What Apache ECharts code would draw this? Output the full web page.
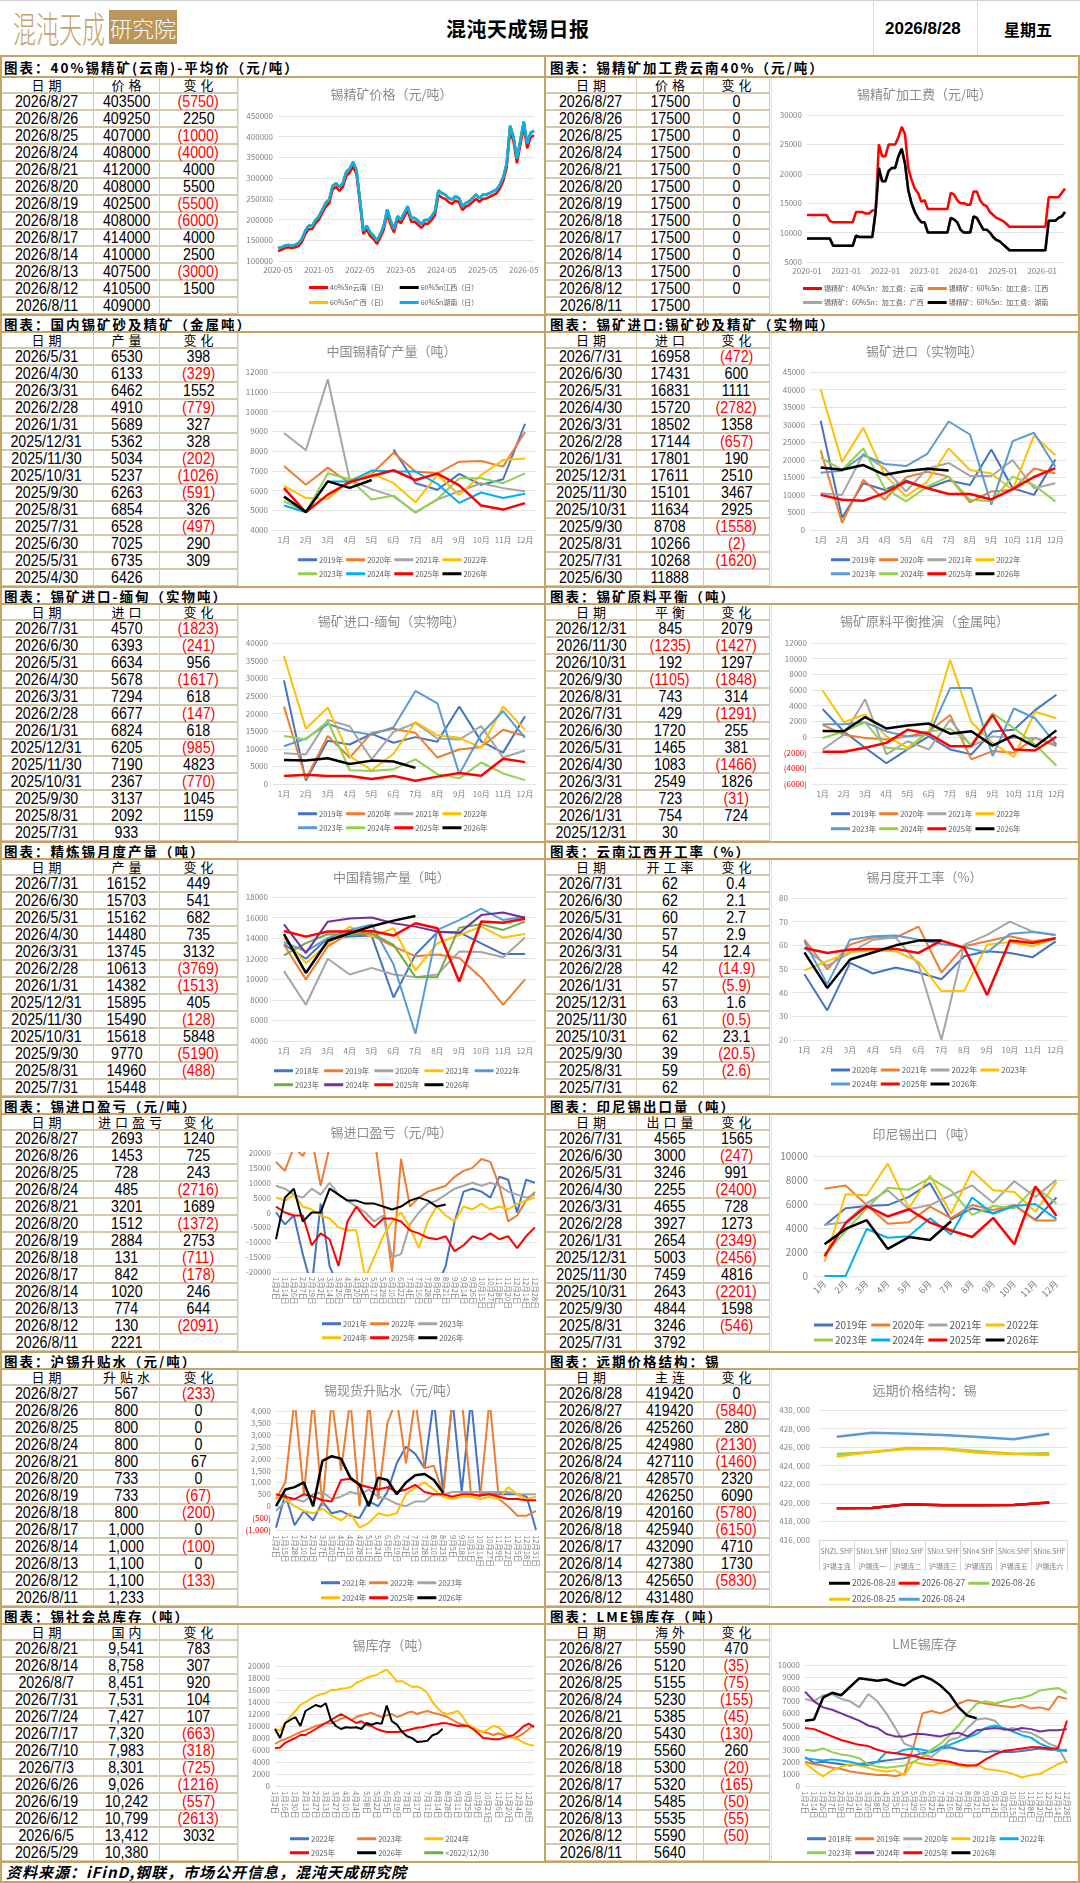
<!DOCTYPE html>
<html>
<head>
<meta charset="utf-8">
<script src="https://cdn.jsdelivr.net/npm/echarts/dist/echarts.min.js"></script>
<style>
body{margin:0;background:#fff;}
#page{position:relative;width:1080px;height:1883px;overflow:hidden;background:#fff;font-family:"Liberation Sans","Noto Sans CJK SC",sans-serif;color:#000;}
.sect{font-weight:bold;font-size:13.5px;letter-spacing:2px;padding-left:4px;box-sizing:border-box;white-space:nowrap;font-family:"Noto Sans CJK SC",sans-serif;}
.cell{box-sizing:border-box;border-bottom:2px solid #d4c8ae;border-right:1px solid #d4c8ae;text-align:center;font-size:16px;line-height:16px;white-space:nowrap;}
.cell .t{display:inline-block;transform:scaleX(0.89);}
.head{box-sizing:border-box;border-bottom:2px solid #d4c8ae;border-right:1px solid #d4c8ae;text-align:center;font-size:13px;line-height:16px;letter-spacing:4px;text-indent:4px;white-space:nowrap;font-family:"Noto Sans CJK SC",sans-serif;}
.chart{background:#fff;box-sizing:border-box;border:1px solid #e2e2e2;}
</style>
</head>
<body>
<div id="page"></div>
<script>
/* ---------------- 表格数据 ---------------- */
var dDaily = ['2026/8/27','2026/8/26','2026/8/25','2026/8/24','2026/8/21','2026/8/20','2026/8/19','2026/8/18','2026/8/17','2026/8/14','2026/8/13','2026/8/12','2026/8/11'];
var dMonthly = ['2026/7/31','2026/6/30','2026/5/31','2026/4/30','2026/3/31','2026/2/28','2026/1/31','2025/12/31','2025/11/30','2025/10/31','2025/9/30','2025/8/31','2025/7/31'];

var orePx = [403500,409250,407000,408000,412000,408000,402500,408000,414000,410000,407500,410500,409000];
var orePxChg = [-5750,2250,-1000,-4000,4000,5500,-5500,-6000,4000,2500,-3000,1500,null];

var tcPx = [17500,17500,17500,17500,17500,17500,17500,17500,17500,17500,17500,17500,17500];
var tcChg = [0,0,0,0,0,0,0,0,0,0,0,0,null];

var mineDates = ['2026/5/31','2026/4/30','2026/3/31','2026/2/28','2026/1/31','2025/12/31','2025/11/30','2025/10/31','2025/9/30','2025/8/31','2025/7/31','2025/6/30','2025/5/31','2025/4/30'];
var mineOut = [6530,6133,6462,4910,5689,5362,5034,5237,6263,6854,6528,7025,6735,6426];
var mineChg = [398,-329,1552,-779,327,328,-202,-1026,-591,326,-497,290,309,null];

var impDates = ['2026/7/31','2026/6/30','2026/5/31','2026/4/30','2026/3/31','2026/2/28','2026/1/31','2025/12/31','2025/11/30','2025/10/31','2025/9/30','2025/8/31','2025/7/31','2025/6/30'];
var impVal = [16958,17431,16831,15720,18502,17144,17801,17611,15101,11634,8708,10266,10268,11888];
var impChg = [-472,600,1111,-2782,1358,-657,190,2510,3467,2925,-1558,-2,-1620,null];

var mmVal = [4570,6393,6634,5678,7294,6677,6824,6205,7190,2367,3137,2092,933];
var mmChg = [-1823,-241,956,-1617,618,-147,618,-985,4823,-770,1045,1159,null];

var balDates = ['2026/12/31','2026/11/30','2026/10/31','2026/9/30','2026/8/31','2026/7/31','2026/6/30','2026/5/31','2026/4/30','2026/3/31','2026/2/28','2026/1/31','2025/12/31'];
var balVal = [845,-1235,192,-1105,743,429,1720,1465,1083,2549,723,754,30];
var balChg = [2079,-1427,1297,-1848,314,-1291,255,381,-1466,1826,-31,724,null];

var refVal = [16152,15703,15162,14480,13745,10613,14382,15895,15490,15618,9770,14960,15448];
var refChg = [449,541,682,735,3132,-3769,-1513,405,-128,5848,-5190,-488,null];

var runVal = [62,62,60,57,54,42,57,63,61,62,39,59,62];
var runChg = [0.4,2.1,2.7,2.9,12.4,-14.9,-5.9,1.6,-0.5,23.1,-20.5,-2.6,null];

var pnlVal = [2693,1453,728,485,3201,1512,2884,131,842,1020,774,130,2221];
var pnlChg = [1240,725,243,-2716,1689,-1372,2753,-711,-178,246,644,-2091,null];

var idVal = [4565,3000,3246,2255,4655,3927,2654,5003,7459,2643,4844,3246,3792];
var idChg = [1565,-247,991,-2400,728,1273,-2349,-2456,4816,-2201,1598,-546,null];

var basisVal = [567,800,800,800,800,733,733,800,1000,1000,1100,1100,1233];
var basisChg = [-233,0,0,0,67,0,-67,-200,0,-100,0,-133,null];

var futDates = ['2026/8/28','2026/8/27','2026/8/26','2026/8/25','2026/8/24','2026/8/21','2026/8/20','2026/8/19','2026/8/18','2026/8/17','2026/8/14','2026/8/13','2026/8/12'];
var futVal = [419420,419420,425260,424980,427110,428570,426250,420160,425940,432090,427380,425650,431480];
var futChg = [0,-5840,280,-2130,-1460,2320,6090,-5780,-6150,4710,1730,-5830,null];

var stkDates = ['2026/8/21','2026/8/14','2026/8/7','2026/7/31','2026/7/24','2026/7/17','2026/7/10','2026/7/3','2026/6/26','2026/6/19','2026/6/12','2026/6/5','2026/5/29'];
var stkVal = [9541,8758,8451,7531,7427,7320,7983,8301,9026,10242,10799,13412,10380];
var stkChg = [783,307,920,104,107,-663,-318,-725,-1216,-557,-2613,3032,null];

var lmeVal = [5590,5120,5155,5230,5385,5430,5560,5300,5320,5485,5535,5590,5640];
var lmeChg = [470,-35,-75,-155,-45,-130,260,-20,-165,-50,-55,-50,null];

/* ---------------- 图表数据 ---------------- */
var months = ['1月','2月','3月','4月','5月','6月','7月','8月','9月','10月','11月','12月'];

// 锡精矿价格，月度取值 2020-05 ~ 2026-08
var px40Yunnan = [124000,127000,131000,133000,131000,133000,136000,146000,
  165000,177000,177000,191000,200000,216000,231000,239000,272000,279000,269000,279000,
  305000,313000,329000,309000,239000,165000,176000,160000,153000,141000,157000,176000,
  214000,188000,169000,199000,191000,207000,222000,195000,195000,188000,180000,190000,
  190000,199000,211000,259000,253000,250000,242000,238000,246000,242000,223000,231000,
  235000,242000,250000,243000,250000,251000,255000,259000,263000,275000,293000,325000,
  414000,388000,336000,380000,424000,372000,398000,403500];
var px60 = [131000,133000,137000,139000,137000,139000,143000,153000,
  173000,185000,185000,199000,208000,224000,240000,248000,281000,288000,278000,288000,
  315000,323000,339000,319000,248000,173000,185000,169000,161000,149000,165000,185000,
  224000,197000,177000,208000,200000,216000,232000,204000,204000,197000,189000,199000,
  199000,208000,220000,270000,264000,260000,252000,248000,256000,252000,232000,240000,
  244000,252000,260000,252000,260000,260000,264000,268000,272000,284000,303000,335000,
  426000,399000,347000,391000,436000,383000,410000,414000];

// 加工费，月度取值 2020-01 ~ 2026-08
var fee40Yunnan = [13000,13000,13000,13000,13000,13000,13000,12000,11750,11750,11750,11750,
  11750,11750,11750,13500,13500,13500,13250,13250,13750,13750,25000,23000,
  23000,25000,25000,25000,26250,28000,26750,21000,19000,17500,16750,15250,
  15500,14000,14000,14000,14000,14000,14000,14000,16750,16500,15500,15000,
  15000,14750,14750,17000,17000,15500,14750,14500,13500,13000,12500,12250,
  12000,11500,11000,11000,11000,11000,11000,11000,11000,11000,11000,11000,
  11000,11000,16000,16000,16000,16000,16750,17500];
var fee60 = [9000,9000,9000,9000,9000,9000,9000,9000,7750,7750,7750,7750,
  7750,7750,7750,9500,9250,9250,9250,9250,9250,13500,21000,18750,
  18750,20500,21000,21000,23000,24250,21750,17250,15000,13500,12500,11750,
  11750,10000,10000,10000,10000,10000,10000,10000,12500,12250,11750,10500,
  10000,10000,10000,12750,12500,11500,10500,10500,10000,9250,8750,8500,
  8000,7500,7000,7000,7000,7000,7000,7000,7000,7000,7000,7000,
  7000,7000,12000,12000,12000,12500,12750,13500];

// 中国锡精矿产量
var mine2019 = [null,null,null,null,null,8080,6370,6040,6840,6290,6570,9380];
var mine2020 = [7240,6290,7160,6370,6840,7910,6960,6870,7460,7490,7210,8960];
var mine2021 = [8910,8040,11630,6540,6070,5700,4900,5540,5960,6370,6120,5960];
var mine2022 = [6240,5620,5570,6540,6870,6370,5400,6790,5790,6790,7540,7620];
var mine2023 = [5460,4900,6870,6570,5540,5740,4870,5570,6620,6620,6370,6870];
var mine2024 = [5240,4900,6460,6460,7010,6960,6960,6340,5370,5900,5620,5840];
var mine2025 = [6120,4900,5790,6426,6735,7025,6528,6854,6263,5237,5034,5362];
var mine2026 = [5689,4910,6462,6133,6530];

// 锡矿进口
var imp2019 = [31100,3470,13300,11400,14100,11900,14100,12800,22900,11900,10000,20100];
var imp2020 = [22700,2060,14300,8600,15000,16600,15200,7900,11000,11400,17500,16100];
var imp2021 = [10500,10000,21700,17500,11000,17500,19100,15400,15400,19900,11900,13300];
var imp2022 = [40000,19400,29100,15700,9560,13800,23200,17100,16100,11400,26900,21300];
var imp2023 = [16300,16900,21300,18800,18200,21700,30900,27200,7220,25300,27700,18000];
var imp2024 = [20600,17100,23200,11900,8160,12400,15200,8600,8160,15200,12800,8160];
var imp2025 = [10000,8600,8340,10500,13800,11888,10268,10266,8708,11634,15101,17611];
var imp2026 = [17801,17144,18502,15720,16831,17431,16958];

// 锡矿进口-缅甸
var mm2019 = [29400,960,12300,11200,14200,11700,13300,12000,22000,12100,8900,19200];
var mm2020 = [22000,1400,13600,7500,14500,15700,14500,7500,9800,10500,15400,13600];
var mm2021 = [8700,8400,18200,16400,7000,14800,17300,12900,12600,16400,7500,9500];
var mm2022 = [36300,15700,21700,7900,3900,8600,17600,13800,13100,10300,22000,15400];
var mm2023 = [10700,12900,17000,15000,14000,16100,26400,22900,2800,14200,20700,13100];
var mm2024 = [13600,12600,17800,3900,3700,4200,7000,2800,1600,6100,3000,1100];
var mm2025 = [2300,2600,2300,2300,1400,2300,933,2092,3137,2367,7190,6205];
var mm2026 = [6824,6677,7294,5678,6634,6393,4570];

// 锡矿原料平衡推演
var bal2019 = [3560,710,-1380,-3350,-1590,80,-1590,-2220,710,920,3430,5400];
var bal2020 = [1550,290,-130,-330,80,710,2800,-2850,-1800,-2000,-130,-1170];
var bal2021 = [-1590,290,4810,-2220,-540,-1590,2180,-1170,80,-130,-130,-960];
var bal2022 = [5940,1880,2890,80,-1380,710,9840,1880,-750,-2550,3220,2390];
var bal2023 = [1630,1630,1880,710,80,290,6240,6240,-2430,3640,2390,-960];
var bal2024 = [-130,710,1880,-1380,-1590,710,1050,-960,3010,1130,-960,-3680];
var bal2025 = [-1880,-1880,-1380,-750,920,420,-1170,-1170,2800,-1590,-1720,30];
var bal2026 = [754,723,2549,1083,1465,1720,429,743,-1105,192,-1235,845];

// 中国精锡产量
var ref2018 = [13400,12000,14000,14150,14250,8230,12400,14570,14570,13500,12450,12450];
var ref2019 = [13350,9990,13200,14480,14300,13200,12230,12400,12070,10150,7520,9990];
var ref2020 = [10790,7520,12000,10470,11110,10470,10210,10470,12710,12650,12140,14060];
var ref2021 = [14000,11590,13420,15120,14150,14960,10860,13500,14300,15120,14060,14410];
var ref2022 = [13610,12710,14000,14800,15340,11430,4700,14800,15760,16880,15760,16080];
var ref2023 = [12330,13510,14380,14310,14480,13350,10210,10210,15020,15340,14800,15600];
var ref2024 = [15340,12550,15600,15920,16010,15440,15120,14640,14500,16240,16490,15980];
var ref2025 = [14700,14150,14640,14640,14700,14250,15448,14960,9770,15618,15490,15895];
var ref2026 = [14382,10613,13745,14480,15162,15703,16152];

// 锡月度开工率
var run2020 = [47.8,32.5,52.6,48.1,50.6,48.5,45.7,55.4,57.5,56.8,55,61.7];
var run2021 = [62.4,49.9,60.3,63.3,63.3,67.9,48.5,59.6,61.7,63.8,61.7,63];
var run2022 = [58.9,51.3,56.8,62.4,63.3,51.9,20,60.3,64.4,70,65.8,64.4];
var run2023 = [49.4,53.3,57.2,57.8,57.5,53.1,40.6,40.8,60.3,61.4,59.6,63];
var run2024 = [61.7,43.6,62.4,63.8,64.2,62.4,60.6,59.2,57,64.9,65.6,64.4];
var run2025 = [58.9,56.8,58.2,58.5,58.5,56.8,62,59,39,62,61,63];
var run2026 = [57,42,54,57,60,62,62];

// 锡进口盈亏
var days30 = ['1月2日','1月14日','1月26日','2月7日','2月19日','3月2日','3月14日','3月26日','4月8日','4月20日','5月5日','5月17日','5月29日','6月10日','6月22日','7月4日','7月16日','7月28日','8月9日','8月21日','9月2日','9月14日','9月26日','10月15日','10月27日','11月8日','11月20日','12月2日','12月14日','12月28日'];
var pnl2021 = [0,-4000,-1000,-14000,-25000,3000,-18000,-25000,-25000,-25000,-25000,-25000,-25000,-25000,-25000,-25000,-25000,-25000,-25000,-18000,-3000,7000,8000,7000,5000,12000,11000,0,11000,10000];
var pnl2022 = [17000,14000,22000,19000,25000,9000,22000,26000,26000,26000,26000,26000,3000,-20000,18000,2000,5000,7000,8000,9000,12000,14000,15000,18000,17000,9000,-3000,-1000,4000,7000];
var pnl2023 = [9000,8000,6000,5000,8000,6000,10000,6000,4000,2000,0,-3000,-1000,-15000,-14000,-4000,0,3000,4000,6000,8000,9000,10000,9000,10000,9000,7000,6000,5000,6000];
var pnl2024 = [5000,4000,6000,2000,1000,-1000,-2000,-5000,-6000,-6000,-22000,-15000,-8000,-3000,0,-5000,-12000,-3000,2000,-1000,-3000,2000,1000,3000,1000,2000,1000,3000,4000,5000];
var pnl2025 = [2000,0,-1000,-1000,-11000,-7000,-9000,-18000,-3000,2000,-2000,-5000,-2000,-2000,-3000,-6000,-7000,-8500,-9000,-8000,-13000,-11000,-8000,-9000,-7000,-9000,-8000,-12000,-8000,-5000];
var pnl2026 = [-9000,5000,8000,-3000,0,0,8000,6000,4000,4000,3000,3000,2000,1000,2000,4000,5000,4000,2000,2693];

// 印尼锡出口
var id2019 = [4200,5640,5830,5910,6590,7740,4690,5640,5230,5910,4690,6540];
var id2020 = [7280,7550,5910,4360,4470,5780,4820,5910,5500,5910,4630,4630];
var id2021 = [4280,4470,6050,7140,5560,5910,6730,7550,6100,7900,6590,8010];
var id2022 = [1200,6810,6730,9370,5640,8370,5180,8770,7140,7000,5370,7820];
var id2023 = [1830,3730,5640,7360,7190,8180,7140,5100,5830,5640,7410,6050];
var id2024 = [0,0,3920,3190,3320,4820,3460,6540,5180,5830,6000,4740];
var id2025 = [1640,4410,5830,4960,5560,4470,3792,3246,4844,2643,7459,5003];
var id2026 = [2654,3927,4655,2255,3246,3000,4565];

// 锡现货升贴水
var days29 = ['1月2日','1月15日','1月28日','2月10日','2月23日','3月7日','3月20日','4月2日','4月15日','4月28日','5月11日','5月24日','6月6日','6月19日','7月2日','7月15日','7月28日','8月10日','8月23日','9月5日','9月18日','10月1日','10月14日','10月27日','11月9日','11月22日','12月5日','12月18日','12月31日'];
var bs2021 = [-900,500,-800,-200,-600,200,-300,-200,-400,-500,200,0,600,1800,2500,2200,1600,4500,600,4500,600,4500,500,500,500,500,500,400,-1000];
var bs2022 = [300,1000,4500,500,4500,0,4500,1500,4500,0,4500,300,3500,4500,1800,4500,1600,1700,500,4500,4500,500,400,4500,300,0,-400,-400,-200];
var bs2023 = [-200,200,300,200,500,600,300,400,600,500,700,400,300,100,0,200,200,500,500,600,600,600,600,600,600,600,500,500,500];
var bs2024 = [400,300,0,-200,-300,-100,-400,-600,-300,-900,-700,-300,-400,-300,500,800,1000,700,400,300,400,400,300,400,300,800,500,300,400];
var bs2025 = [500,400,300,500,400,250,200,1100,1150,900,800,700,800,600,700,900,600,500,500,400,500,500,450,500,400,300,300,250,250];
var bs2026 = [0,700,800,1000,0,1900,2100,2000,1200,900,0,1200,1100,500,1000,1300,1350,1100,567];

// 远期价格结构
var termCodes = ['SNZL.SHF','SN01.SHF','SN02.SHF','SN03.SHF','SN04.SHF','SN05.SHF','SN06.SHF'];
var termNames = ['沪锡主连','沪锡连一','沪锡连二','沪锡连三','沪锡连四','沪锡连五','沪锡连六'];
var term0828 = [419420,419450,419850,419750,419750,419780,420050];
var term0827 = [419420,419450,419850,419750,419750,419780,420050];
var term0826 = [425260,425450,425900,425850,425550,425300,425350];
var term0825 = [424980,425500,425800,425800,425400,425250,425150];
var term0824 = [427110,427550,427450,427300,427100,426850,427450];

// 锡社会库存（周度）
var weeks52 = ['1月2日','1月9日','1月16日','1月23日','1月30日','2月6日','2月13日','2月20日','2月27日','3月6日','3月13日','3月20日','3月27日','4月3日','4月10日','4月17日','4月24日','5月1日','5月8日','5月15日','5月22日','5月29日','6月5日','6月12日','6月19日','6月26日','7月3日','7月10日','7月17日','7月24日','7月31日','8月7日','8月14日','8月21日','8月28日','9月4日','9月11日','9月18日','9月25日','10月2日','10月9日','10月16日','10月23日','10月30日','11月6日','11月13日','11月20日','11月27日','12月4日','12月11日','12月18日','12月25日'];
var stk2022 = [];
var stk2023 = [7000,7500,7800,8200,8600,9000,9300,9600,10000,10200,10500,10400,10800,11200,11500,11000,11500,11800,12000,12200,11800,11500,11800,12000,11500,11800,12200,12400,12000,12300,12500,12200,12000,11800,11500,11000,10500,10200,10000,9500,9200,9000,8800,8500,8800,8500,8200,8000,8300,8800,9500,10200];
var stk2024 = [9500,9200,10500,11500,12500,13500,14000,14500,15000,15300,15500,16000,16000,16200,16300,16500,17200,17500,18000,18300,18500,19000,19400,18500,17400,17500,17000,16500,16600,16200,15500,14000,13000,12200,12000,12200,12500,11500,10200,9800,9300,9000,9500,10000,9800,9000,8200,8000,7700,7200,6900,6700];
var stk2025 = [6300,6400,7200,7600,8000,8500,8500,9000,9500,10000,10500,11000,11500,12000,11500,11000,10500,10800,10200,10000,9500,9200,9000,9000,9000,9100,9300,9500,9700,9800,10000,10200,10300,10500,10400,10200,10000,10100,10000,9500,8800,8000,7900,7800,7800,8000,8300,8500,9200,10000,10400,9800];
var stk2026 = [9500,8000,10500,11000,11500,10000,12500,13000,13500,13200,13800,11000,10000,9500,9800,9700,9800,9500,10500,10200,10500,10380,13412,10799,10242,9026,8301,7983,7320,7427,7531,8451,8758,9541];
var stkOld = [];

// LME锡库存
var lme2018 = [2400,1900,2000,1900,1800,1700,1800,1900,2000,2100,2200,2300,2500,2700,2800,3100,3200,3000,2900,2900,2800,2900,2800,2800,2900,3000,3100,3000,3000,2900];
var lme2019 = [2000,1800,1700,1500,1400,1200,1100,1000,900,900,800,1000,3200,6000,6200,6000,6300,6800,7100,7000,6800,6700,6600,6500,6700,6400,6500,6300,7400,7200];
var lme2020 = [7200,7000,7500,7600,7200,7000,6500,7600,7000,6000,4800,3500,3200,2600,2400,3000,3800,4000,4800,5500,5600,5400,4600,4800,4500,4400,4000,3500,3200,1900];
var lme2021 = [1900,1300,800,1300,1600,1800,1700,1500,1300,1200,1300,900,2000,1800,1700,1900,1800,1700,1600,1800,1400,1300,1200,1000,700,900,1000,1400,1800,2100];
var lme2022 = [2300,2200,2100,2200,2100,2000,1800,1700,2000,2800,2700,3000,3100,3000,2800,3200,3400,3700,4000,4300,4800,5000,4800,4500,4200,4000,3500,3200,2900,3000];
var lme2023 = [3000,2900,3100,2800,2600,2500,2300,1800,1600,1500,1600,1700,2000,2400,3000,3500,4200,5000,6000,6800,7000,6800,7000,7200,7300,7500,7900,8000,8100,7700];
var lme2024 = [7800,7000,6500,6300,6000,5700,5400,5000,4800,4300,4100,4100,4300,4300,4200,4100,4300,4400,4100,4600,4700,4800,4700,4600,4800,4700,4500,4600,4600,4700];
var lme2025 = [4800,4700,4400,4100,3800,3600,3400,3300,3000,2800,2700,2600,2500,2300,2200,2100,2000,1800,1700,1700,2200,2600,2900,3000,3100,3200,3200,3100,3100,5400];
var lme2026 = [5400,5500,7300,7700,7500,8200,8900,8800,8700,8800,8500,8300,8800,9100,8800,8300,7600,6500,5800,5590];

/* ---------------- 版面 ---------------- */
var GOLD = '#c8a464';
var RH = 17;
var FONT = '"Noto Sans CJK SC","Liberation Sans",sans-serif';
var C = {blue:'#4472c4', orange:'#ed7d31', gray:'#a5a5a5', yellow:'#ffc000', lblue:'#5b9bd5', green:'#70ad47',
         lgreen:'#92d050', cyan:'#00b0f0', red:'#ff0000', black:'#000000', purple:'#7030a0'};
var SECS = [
  {top: 56, th: 21}, {top: 315, th: 17}, {top: 587, th: 17}, {top: 842, th: 17},
  {top: 1097, th: 17}, {top: 1352, th: 17}, {top: 1607, th: 17}
];
var SIDES = {
  L: {x: 0, w: 545, cols: [94, 66, 78], cx: 238, cw: 307},
  R: {x: 546, w: 534, cols: [91, 67, 66], cx: 771, cw: 307}
};
var page = document.getElementById('page');

function box(css, html, cls) {
  var d = document.createElement('div');
  d.style.cssText = 'position:absolute;' + css;
  if (cls) d.className = cls;
  if (html != null) d.innerHTML = html;
  page.appendChild(d);
  return d;
}

function fmtNum(v, f) {
  if (v === null || v === undefined) return '';
  f = f || {};
  var a = Math.abs(v);
  var s = f.dec ? a.toFixed(f.dec) : String(a);
  if (f.comma) s = s.replace(/\B(?=(\d{3})+(?!\d))/g, ',');
  return v < 0 ? '<span style="color:#ff0000">(' + s + ')</span>' : s;
}

function panel(side, sec, title, heads, dates, vals, chgs, vf, cf, chartId) {
  var S = SIDES[side], s = SECS[sec];
  box('left:' + S.x + 'px;top:' + s.top + 'px;width:' + S.w + 'px;height:' + s.th + 'px;line-height:' + (s.th + 1) + 'px;', title, 'sect');
  var y0 = s.top + s.th;
  var rows = [heads].concat(dates.map(function (d, i) {
    return [d, fmtNum(vals[i], vf), fmtNum(chgs[i], cf)];
  }));
  rows.forEach(function (r, i) {
    var x = S.x;
    r.forEach(function (txt, j) {
      var css = 'left:' + x + 'px;top:' + (y0 + i * RH) + 'px;width:' + S.cols[j] + 'px;height:' + RH + 'px;';
      if (i === 0) box(css, txt, 'head');
      else box(css, txt === '' ? '' : '<span class="t">' + txt + '</span>', 'cell');
      x += S.cols[j];
    });
  });
  var c = box('left:' + S.cx + 'px;top:' + y0 + 'px;width:' + S.cw + 'px;height:' + (rows.length * RH) + 'px;', '', 'chart');
  c.id = chartId;
}

// 页眉
box('left:0;top:0;width:1080px;height:1px;background:#cfcfcf;');
box('left:13px;top:5px;font-size:36px;line-height:44px;color:#c6a36c;font-weight:300;transform:scaleX(0.64);transform-origin:left top;white-space:nowrap;font-family:' + FONT + ';', '混沌天成');
box('left:109px;top:10px;width:68px;height:34px;background:#bb955a;color:#fff;font-size:22px;font-weight:300;line-height:34px;text-align:center;font-family:' + FONT + ';', '研究院');
box('left:446px;top:16px;font-size:20px;font-weight:bold;line-height:26px;letter-spacing:0.5px;font-family:' + FONT + ';', '混沌天成锡日报');
box('left:873px;top:0;width:1px;height:56px;background:#d9d9d9;');
box('left:977px;top:0;width:1px;height:56px;background:#d9d9d9;');
box('left:885px;top:18px;font-size:17px;font-weight:bold;line-height:22px;', '2026/8/28');
box('left:1004px;top:18px;font-size:16px;font-weight:bold;line-height:22px;font-family:' + FONT + ';', '星期五');

panel('L', 0, '图表：40%锡精矿(云南)-平均价（元/吨）', ['日期','价格','变化'], dDaily, orePx, orePxChg, null, null, 'c1');
panel('R', 0, '图表：锡精矿加工费云南40%（元/吨）', ['日期','价格','变化'], dDaily, tcPx, tcChg, null, null, 'c2');
panel('L', 1, '图表：国内锡矿砂及精矿（金属吨）', ['日期','产量','变化'], mineDates, mineOut, mineChg, null, null, 'c3');
panel('R', 1, '图表：锡矿进口:锡矿砂及精矿（实物吨）', ['日期','进口','变化'], impDates, impVal, impChg, null, null, 'c4');
panel('L', 2, '图表：锡矿进口-缅甸（实物吨）', ['日期','进口','变化'], dMonthly, mmVal, mmChg, null, null, 'c5');
panel('R', 2, '图表：锡矿原料平衡（吨）', ['日期','平衡','变化'], balDates, balVal, balChg, null, null, 'c6');
panel('L', 3, '图表：精炼锡月度产量（吨）', ['日期','产量','变化'], dMonthly, refVal, refChg, null, null, 'c7');
panel('R', 3, '图表：云南江西开工率（%）', ['日期','开工率','变化'], dMonthly, runVal, runChg, null, {dec: 1}, 'c8');
panel('L', 4, '图表：锡进口盈亏（元/吨）', ['日期','进口盈亏','变化'], dDaily, pnlVal, pnlChg, null, null, 'c9');
panel('R', 4, '图表：印尼锡出口量（吨）', ['日期','出口量','变化'], dMonthly, idVal, idChg, null, null, 'c10');
panel('L', 5, '图表：沪锡升贴水（元/吨）', ['日期','升贴水','变化'], dDaily, basisVal, basisChg, {comma: true}, null, 'c11');
panel('R', 5, '图表：远期价格结构：锡', ['日期','主连','变化'], futDates, futVal, futChg, null, null, 'c12');
panel('L', 6, '图表：锡社会总库存（吨）', ['日期','国内','变化'], stkDates, stkVal, stkChg, {comma: true}, null, 'c13');
panel('R', 6, '图表：LME锡库存（吨）', ['日期','海外','变化'], dDaily, lmeVal, lmeChg, null, null, 'c14');

// 金色分隔线
SECS.forEach(function (s) {
  box('left:0;top:' + (s.top - 1) + 'px;width:1080px;height:2px;background:' + GOLD + ';');
  box('left:0;top:' + (s.top + s.th - 1) + 'px;width:1080px;height:2px;background:' + GOLD + ';');
});
box('left:544px;top:56px;width:2px;height:1807px;background:' + GOLD + ';');
box('left:0;top:56px;width:2px;height:1827px;background:' + GOLD + ';');
box('left:1078px;top:56px;width:2px;height:1827px;background:' + GOLD + ';');
box('left:0;top:1861px;width:1080px;height:2px;background:' + GOLD + ';');
box('left:0;top:1881px;width:1080px;height:2px;background:' + GOLD + ';');
box('left:6px;top:1862px;font-size:15px;line-height:20px;font-weight:bold;font-style:italic;letter-spacing:1px;font-family:' + FONT + ';', '资料来源：iFinD,钢联，市场公开信息，混沌天成研究院');

/* ---------------- 图表 ---------------- */
function negLabel(comma) {
  return function (v) {
    var s = String(Math.abs(v));
    if (comma) s = s.replace(/\B(?=(\d{3})+(?!\d))/g, ',');
    return v < 0 ? '{n|(' + s + ')}' : s;
  };
}

function lineChart(id, cfg) {
  var chart = echarts.init(document.getElementById(id));
  var lg = cfg.legend;
  chart.setOption({
    animation: false,
    textStyle: {fontFamily: FONT},
    title: {text: cfg.title, left: 'center', top: cfg.titleTop, padding: 0,
      textStyle: {color: '#8c8c8c', fontSize: 13, fontWeight: 'normal'}},
    legend: lg.rows.map(function (names, k) {
      return {data: names, left: lg.left, top: lg.top + k * lg.step, itemGap: lg.gap,
        itemWidth: lg.iw || 19, itemHeight: 3, icon: 'rect', padding: 0, selectedMode: false,
        textStyle: {color: '#595959', fontSize: lg.size || 7.5, padding: [0, 0, 0, -3]}};
    }),
    grid: Object.assign({outerBoundsMode: 'none', containLabel: false}, cfg.grid),
    xAxis: Object.assign({
      type: 'category', data: cfg.cats, boundaryGap: cfg.boundaryGap !== false,
      axisLine: {show: false}, axisTick: {show: false}, splitLine: {show: false},
      axisLabel: Object.assign({color: '#7f7f7f', fontSize: 8, interval: 0, margin: 6}, cfg.xLabel)
    }, cfg.xExtra || {}),
    yAxis: {
      type: 'value', min: cfg.y[0], max: cfg.y[1], interval: cfg.y[2],
      axisLine: {show: false}, axisTick: {show: false},
      splitLine: {show: true, lineStyle: {color: '#e3e3e3', width: 1}},
      axisLabel: Object.assign({color: '#7f7f7f', fontSize: 8, margin: 5,
        formatter: function (v) { return String(v); }}, cfg.yLabel)
    },
    series: cfg.series.map(function (s) {
      return {name: s[0], type: 'line', data: s[1], showSymbol: false, symbol: 'none', smooth: false,
        clip: true, lineStyle: {color: s[2], width: s[3] || 2}, itemStyle: {color: s[2]},
        emphasis: {disabled: true}};
    })
  });
  return chart;
}

function monthLabels(y, m, n) {
  var out = [];
  for (var i = 0; i < n; i++) {
    out.push(y + '-' + (m < 10 ? '0' + m : m));
    m++; if (m > 12) { m = 1; y++; }
  }
  return out;
}
var pxMonths = monthLabels(2020, 5, px60.length);
var feeMonths = monthLabels(2020, 1, fee60.length);

lineChart('c1', {
  title: '锡精矿价格（元/吨）', titleTop: 10,
  grid: {left: 39, right: 10, top: 38, bottom: 53},
  cats: pxMonths, boundaryGap: false, xLabel: {interval: 11, margin: 5},
  y: [100000, 450000, 50000],
  legend: {rows: [['40%Sn云南（日）', '60%Sn江西（日）'], ['60%Sn广西（日）', '60%Sn湖南（日）']], left: 70, top: 206, step: 15, gap: 12, size: 7},
  series: [['40%Sn云南（日）', px40Yunnan, C.red, 2.5], ['60%Sn江西（日）', px60, C.black, 2.5],
           ['60%Sn广西（日）', px60, C.yellow, 2.5], ['60%Sn湖南（日）', px60, C.cyan, 2.5]]
});

lineChart('c2', {
  title: '锡精矿加工费（元/吨）', titleTop: 10,
  grid: {left: 35, right: 12, top: 37, bottom: 52},
  cats: feeMonths, boundaryGap: false, xLabel: {interval: 11, margin: 5},
  y: [5000, 30000, 5000],
  legend: {rows: [['锡精矿：40%Sn：加工费：云南', '锡精矿：60%Sn：加工费：江西'], ['锡精矿：60%Sn：加工费：广西', '锡精矿：60%Sn：加工费：湖南']], left: 31, top: 207, step: 14, gap: 4, size: 7},
  series: [['锡精矿：40%Sn：加工费：云南', fee40Yunnan, C.red, 2.5], ['锡精矿：60%Sn：加工费：江西', fee60, C.orange, 2.5],
           ['锡精矿：60%Sn：加工费：广西', fee60, C.gray, 2.5], ['锡精矿：60%Sn：加工费：湖南', fee60, C.black, 2.5]]
});

lineChart('c3', {
  title: '中国锡精矿产量（吨）', titleTop: 12,
  grid: {left: 34, right: 8, top: 39, bottom: 56},
  cats: months, y: [4000, 12000, 1000],
  legend: {rows: [['2019年', '2020年', '2021年', '2022年'], ['2023年', '2024年', '2025年', '2026年']], left: 59, top: 223, step: 14, gap: 3},
  series: [['2019年', mine2019, C.blue], ['2020年', mine2020, C.orange], ['2021年', mine2021, C.gray],
           ['2022年', mine2022, C.yellow], ['2023年', mine2023, C.lgreen], ['2024年', mine2024, C.cyan],
           ['2025年', mine2025, C.red, 2.5], ['2026年', mine2026, C.black, 2.5]]
});

lineChart('c4', {
  title: '锡矿进口（实物吨）', titleTop: 12,
  grid: {left: 38, right: 11, top: 39, bottom: 56},
  cats: months, y: [0, 45000, 5000],
  legend: {rows: [['2019年', '2020年', '2021年', '2022年'], ['2023年', '2024年', '2025年', '2026年']], left: 59, top: 223, step: 14, gap: 3},
  series: [['2019年', imp2019, C.blue], ['2020年', imp2020, C.orange], ['2021年', imp2021, C.gray],
           ['2022年', imp2022, C.yellow], ['2023年', imp2023, C.lblue], ['2024年', imp2024, C.lgreen],
           ['2025年', imp2025, C.red, 2.5], ['2026年', imp2026, C.black, 2.5]]
});

lineChart('c5', {
  title: '锡矿进口-缅甸（实物吨）', titleTop: 10,
  grid: {left: 34, right: 8, top: 38, bottom: 57},
  cats: months, y: [0, 40000, 5000],
  legend: {rows: [['2019年', '2020年', '2021年', '2022年'], ['2023年', '2024年', '2025年', '2026年']], left: 59, top: 205, step: 14, gap: 3},
  series: [['2019年', mm2019, C.blue], ['2020年', mm2020, C.orange], ['2021年', mm2021, C.gray],
           ['2022年', mm2022, C.yellow], ['2023年', mm2023, C.lblue], ['2024年', mm2024, C.lgreen],
           ['2025年', mm2025, C.red, 2.5], ['2026年', mm2026, C.black, 2.5]]
});

lineChart('c6', {
  title: '锡矿原料平衡推演（金属吨）', titleTop: 10,
  grid: {left: 40, right: 10, top: 38, bottom: 57},
  cats: months, y: [-6000, 12000, 2000],
  yLabel: {formatter: negLabel(false), rich: {n: {color: '#ff0000', fontSize: 8}}},
  legend: {rows: [['2019年', '2020年', '2021年', '2022年'], ['2023年', '2024年', '2025年', '2026年']], left: 59, top: 205, step: 15, gap: 3},
  series: [['2019年', bal2019, C.blue], ['2020年', bal2020, C.orange], ['2021年', bal2021, C.gray],
           ['2022年', bal2022, C.yellow], ['2023年', bal2023, C.lblue], ['2024年', bal2024, C.lgreen],
           ['2025年', bal2025, C.red, 2.5], ['2026年', bal2026, C.black, 2.5]]
});

lineChart('c7', {
  title: '中国精锡产量（吨）', titleTop: 11,
  grid: {left: 34, right: 8, top: 37, bottom: 55},
  cats: months, y: [4000, 18000, 2000],
  legend: {rows: [['2018年', '2019年', '2020年', '2021年', '2022年'], ['2023年', '2024年', '2025年', '2026年']], left: 35, top: 207, step: 14, gap: 5},
  series: [['2018年', ref2018, C.blue], ['2019年', ref2019, C.orange], ['2020年', ref2020, C.gray],
           ['2021年', ref2021, C.yellow], ['2022年', ref2022, C.lblue], ['2023年', ref2023, C.green],
           ['2024年', ref2024, C.purple], ['2025年', ref2025, C.red, 2.5], ['2026年', ref2026, C.black, 2.5]]
});

lineChart('c8', {
  title: '锡月度开工率（%）', titleTop: 11,
  grid: {left: 21, right: 10, top: 38, bottom: 56},
  cats: months, y: [20, 80, 10],
  legend: {rows: [['2020年', '2021年', '2022年', '2023年'], ['2024年', '2025年', '2026年']], left: 59, top: 206, step: 14, gap: 3, size: 8},
  series: [['2020年', run2020, C.blue], ['2021年', run2021, C.orange], ['2022年', run2022, C.gray],
           ['2023年', run2023, C.yellow], ['2024年', run2024, C.lblue], ['2025年', run2025, C.red, 2.5],
           ['2026年', run2026, C.black, 2.5]]
});

lineChart('c9', {
  title: '锡进口盈亏（元/吨）', titleTop: 11,
  grid: {left: 37, right: 9, top: 38, bottom: 79},
  cats: days30, boundaryGap: false, xLabel: {rotate: -90, fontSize: 7.5, margin: 5},
  y: [-20000, 20000, 5000],
  legend: {rows: [['2021年', '2022年', '2023年'], ['2024年', '2025年', '2026年']], left: 83, top: 205, step: 14, gap: 3},
  series: [['2021年', pnl2021, C.blue], ['2022年', pnl2022, C.orange], ['2023年', pnl2023, C.gray],
           ['2024年', pnl2024, C.yellow], ['2025年', pnl2025, C.red], ['2026年', pnl2026, C.black]]
});

lineChart('c10', {
  title: '印尼锡出口（吨）', titleTop: 13,
  grid: {left: 42, right: 10, top: 41, bottom: 75},
  cats: months, xLabel: {rotate: 45, fontSize: 9, margin: 6},
  y: [0, 10000, 2000], yLabel: {fontSize: 10, margin: 6},
  legend: {rows: [['2019年', '2020年', '2021年', '2022年'], ['2023年', '2024年', '2025年', '2026年']], left: 42, top: 205, step: 15, gap: 4, size: 10},
  series: [['2019年', id2019, C.blue], ['2020年', id2020, C.orange], ['2021年', id2021, C.gray],
           ['2022年', id2022, C.yellow], ['2023年', id2023, C.lgreen], ['2024年', id2024, C.cyan],
           ['2025年', id2025, C.red, 2.5], ['2026年', id2026, C.black, 2.5]]
});

lineChart('c11', {
  title: '锡现货升贴水（元/吨）', titleTop: 14,
  grid: {left: 37, right: 8, top: 41, bottom: 76},
  cats: days29, boundaryGap: false, xLabel: {rotate: -90, fontSize: 7.5, margin: 5},
  y: [-1000, 4000, 500],
  yLabel: {formatter: negLabel(true), rich: {n: {color: '#ff0000', fontSize: 8}}},
  legend: {rows: [['2021年', '2022年', '2023年'], ['2024年', '2025年', '2026年']], left: 82, top: 209, step: 15, gap: 3},
  series: [['2021年', bs2021, C.blue], ['2022年', bs2022, C.orange], ['2023年', bs2023, C.gray],
           ['2024年', bs2024, C.yellow], ['2025年', bs2025, C.red], ['2026年', bs2026, C.black, 2.5]]
});

lineChart('c12', {
  title: '远期价格结构：锡', titleTop: 14,
  grid: {left: 47, right: 10, top: 40, bottom: 66},
  cats: termCodes,
  xLabel: {fontSize: 7, lineHeight: 15, margin: 4,
    formatter: function (v, i) { return v + '\n' + termNames[i]; }},
  xExtra: {axisLine: {show: true, lineStyle: {color: '#d9d9d9'}},
           axisTick: {show: true, length: 31, interval: 0, lineStyle: {color: '#d9d9d9'}}},
  y: [416000, 430000, 2000],
  yLabel: {margin: 9, formatter: function (v) { return String(v).replace(/\B(?=(\d{3})+(?!\d))/g, ', '); }},
  legend: {rows: [['2026-08-28', '2026-08-27', '2026-08-26'], ['2026-08-25', '2026-08-24']], left: 57, top: 209, step: 16, gap: 3, size: 8.5, iw: 21},
  series: [['2026-08-28', term0828, C.black, 2.5], ['2026-08-27', term0827, C.red, 2.5], ['2026-08-26', term0826, C.lgreen, 2.5],
           ['2026-08-25', term0825, C.yellow, 2.5], ['2026-08-24', term0824, C.lblue, 2.5]]
});

lineChart('c13', {
  title: '锡库存（吨）', titleTop: 14,
  grid: {left: 36, right: 10, top: 41, bottom: 75},
  cats: weeks52, boundaryGap: false, xLabel: {rotate: -90, fontSize: 7.5, margin: 5, interval: 1},
  y: [0, 20000, 2000],
  legend: {rows: [['2022年', '2023年', '2024年'], ['2025年', '2026年', '<2022/12/30']], left: 51, top: 210, step: 14, gap: 22},
  series: [['2022年', stk2022, C.blue], ['2023年', stk2023, C.orange], ['2024年', stk2024, C.yellow],
           ['2025年', stk2025, C.red], ['2026年', stk2026, C.black], ['<2022/12/30', stkOld, C.green]]
});

lineChart('c14', {
  title: 'LME锡库存', titleTop: 13,
  grid: {left: 33, right: 10, top: 40, bottom: 75},
  cats: days30, boundaryGap: false, xLabel: {rotate: -90, fontSize: 7.5, margin: 5},
  y: [0, 10000, 1000],
  legend: {rows: [['2018年', '2019年', '2020年', '2021年', '2022年'], ['2023年', '2024年', '2025年', '2026年']], left: 35, top: 210, step: 14, gap: 3},
  series: [['2018年', lme2018, C.blue], ['2019年', lme2019, C.orange], ['2020年', lme2020, C.gray],
           ['2021年', lme2021, C.yellow], ['2022年', lme2022, C.cyan], ['2023年', lme2023, C.lgreen],
           ['2024年', lme2024, C.purple], ['2025年', lme2025, C.red], ['2026年', lme2026, C.black, 2.5]]
});
</script>
</body>
</html>
